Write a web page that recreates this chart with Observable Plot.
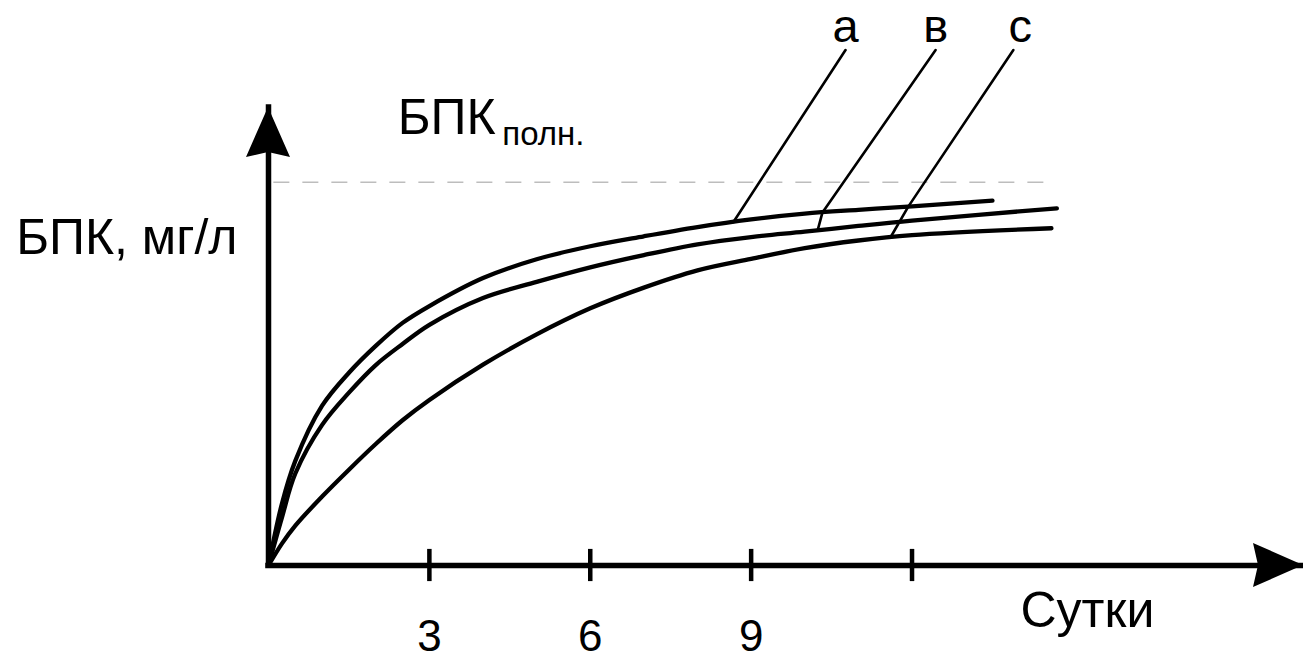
<!DOCTYPE html>
<html><head><meta charset="utf-8">
<script src="https://cdn.jsdelivr.net/npm/d3@7"></script>
<script src="https://cdn.jsdelivr.net/npm/@observablehq/plot@0.6"></script>
<style>
html,body{margin:0;padding:0;background:#fff;}
#chart svg{display:block;}
</style>
</head><body><div id="chart"></div>
<script>
// ---- data (days, BOD in relative units; BOD_full = 100) ----
const curveNames = ["а", "в", "с"];
const daysA = [0, 0.25, 0.5, 1, 1.5, 2, 2.5, 3, 4, 5, 6, 7, 8, 9, 10, 11, 12, 13.5];
const bodA  = [0, 16.1, 27.3, 41.7, 50.3, 57.3, 63.3, 67.7, 75.0, 79.9, 83.3, 85.9, 88.3, 90.3, 91.8, 92.8, 93.7, 95.2];
const daysB = [0, 0.25, 0.5, 1, 1.5, 2, 2.5, 3, 4, 5, 6, 7, 8, 9, 10, 11, 12, 14.7];
const bodB  = [0, 12.5, 24.0, 36.7, 45.1, 52.3, 57.8, 62.8, 69.8, 74.0, 77.8, 81.0, 83.8, 85.7, 87.1, 88.6, 90.0, 93.2];
const daysC = [0, 0.25, 0.5, 1, 1.5, 2, 2.5, 3, 4, 5, 6, 7, 8, 9, 10, 11, 12, 14.6];
const bodC  = [0, 5.7, 10.4, 18.0, 25.0, 31.7, 37.9, 43.2, 52.4, 60.3, 67.1, 72.5, 77.0, 80.0, 82.8, 84.8, 86.2, 88.0];
const bodFull = 100;
const xTicks = [3, 6, 9, 12];
const xTickLabels = ["3", "6", "9", ""];

// ---- annotation anchors (in data units) ----
const labelDays = [10.76, 12.44, 14.02];
const leaderTopDays = [10.76, 12.44, 13.89];
const attachDays = [8.67, 10.33, 11.93];
const ownCurveDays = [8.67, 10.24, 11.6];
const leaderTop = 134.5;
const letterLevel = 140.5;

const seriesDays = [daysA, daysB, daysC];
const seriesVals = [bodA, bodB, bodC];
const rows = curveNames.flatMap((name, k) =>
  seriesDays[k].map((d, i) => ({curve: name, day: d, bod: seriesVals[k][i]})));

function interp(ds, vs, d) {
  for (let i = 1; i < ds.length; i++) {
    if (d <= ds[i]) {
      const t = (d - ds[i - 1]) / (ds[i] - ds[i - 1]);
      return vs[i - 1] + t * (vs[i] - vs[i - 1]);
    }
  }
  return vs[vs.length - 1];
}
const leaders = curveNames.flatMap((name, k) => {
  const pts = [
    {id: name, day: leaderTopDays[k], bod: leaderTop},
    {id: name, day: attachDays[k], bod: interp(daysA, bodA, attachDays[k])}
  ];
  if (k > 0) pts.push({id: name, day: ownCurveDays[k], bod: interp(seriesDays[k], seriesVals[k], ownCurveDays[k])});
  return pts;
});
const letters = curveNames.map((name, k) => ({name, day: labelDays[k], bod: letterLevel}));

const FONT = "'Liberation Sans', Arial, Helvetica, sans-serif";

// arrowheads, positioned from the scales and frame
function arrowHeads(index, scales, values, dims) {
  const sx = scales.x, sy = scales.y;
  const ns = "http://www.w3.org/2000/svg";
  const g = document.createElementNS(ns, "g");
  const x0 = sx(0), y0 = sy(0);
  const right = dims.width - dims.marginRight;
  const top = dims.marginTop;
  const L = 50, H = 22, N = 5;
  const p1 = document.createElementNS(ns, "path");
  p1.setAttribute("d", `M${x0},${top}L${x0 + H},${top + L}L${x0},${top + L - N}L${x0 - H},${top + L}Z`);
  const p2 = document.createElementNS(ns, "path");
  p2.setAttribute("d", `M${right},${y0}L${right - L},${y0 - H}L${right - L + N},${y0}L${right - L},${y0 + H}Z`);
  for (const p of [p1, p2]) { p.setAttribute("fill", "#000"); g.appendChild(p); }
  return g;
}

const tickHalf = 4.2;

const chart = Plot.plot({
  width: 1303,
  height: 661,
  marginLeft: 268,
  marginRight: 0,
  marginTop: 107,
  marginBottom: 96,
  style: {fontFamily: FONT, color: "#000", background: "#fff", overflow: "visible"},
  x: {domain: [0, 19.3], axis: null},
  y: {domain: [0, 119.5], axis: null},
  marks: [
    Plot.ruleY([bodFull], {x1: 0.1, x2: 14.5, stroke: "#bdbdbd", strokeWidth: 1.6, strokeDasharray: "16,13"}),
    Plot.line(rows, {x: "day", y: "bod", z: "curve", stroke: "#000", strokeWidth: 4.3, curve: "catmull-rom"}),
    Plot.line(leaders, {x: "day", y: "bod", z: "id", stroke: "#000", strokeWidth: 2.6, curve: "linear"}),
    Plot.ruleX([0], {stroke: "#000", strokeWidth: 5.5, strokeLinecap: "square"}),
    Plot.ruleY([0], {stroke: "#000", strokeWidth: 5.5, strokeLinecap: "square"}),
    Plot.ruleX(xTicks, {y1: -tickHalf, y2: tickHalf, stroke: "#000", strokeWidth: 4.5}),
    Plot.axisX(xTicks, {label: null, tickSize: 0, tickPadding: 54, tickFormat: (d) => xTickLabels[xTicks.indexOf(d)], fontSize: 44, fill: "#000"}),
    arrowHeads,
    Plot.text(letters, {x: "day", y: "bod", text: "name", fontSize: 47, fill: "#000"}),
    Plot.text(["БПК"], {x: 2.41, y: bodFull, dy: -64, textAnchor: "start", lineAnchor: "middle", fontSize: 50, fill: "#000"}),
    Plot.text(["полн."], {x: 4.36, y: bodFull, dy: -48, textAnchor: "start", lineAnchor: "middle", fontSize: 33, fill: "#000"}),
    Plot.text(["БПК, мг/л"], {frameAnchor: "top-left", dx: -31, dy: 130, textAnchor: "end", lineAnchor: "middle", fontSize: 50, fill: "#000"}),
    Plot.text(["Сутки"], {frameAnchor: "bottom-right", dx: -283, dy: 45, textAnchor: "start", lineAnchor: "middle", fontSize: 50, fill: "#000"})
  ]
});
document.getElementById("chart").appendChild(chart);
</script>
</body></html>
